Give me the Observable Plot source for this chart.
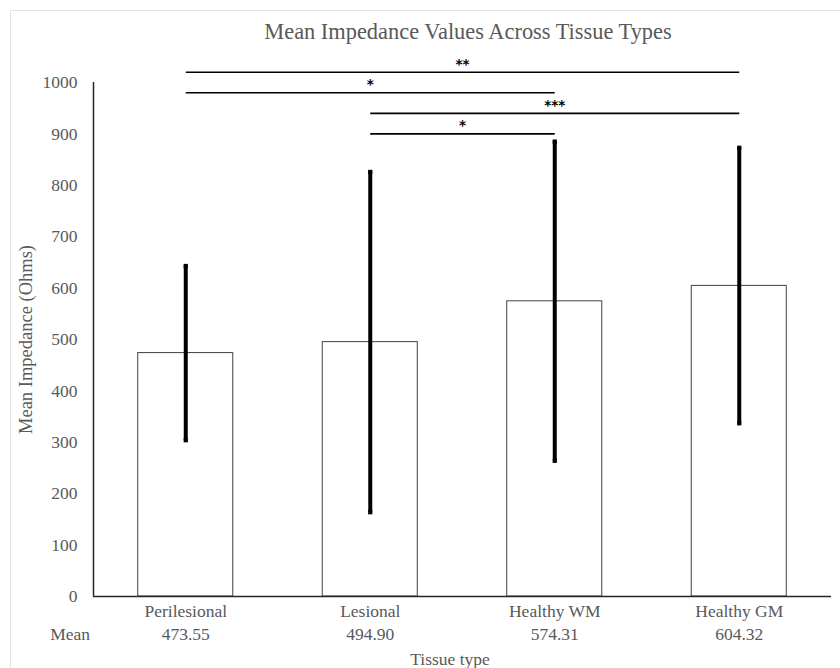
<!DOCTYPE html>
<html>
<head>
<meta charset="utf-8">
<script src="https://cdn.jsdelivr.net/npm/d3@7"></script>
<script src="https://cdn.jsdelivr.net/npm/@observablehq/plot@0.6"></script>
<style>
  html, body { margin: 0; padding: 0; background: #fff; overflow: hidden; }
  #wrap { position: relative; width: 840px; height: 668px; overflow: hidden; background: #fff; }
  #frame { position: absolute; left: 10px; top: 10px; width: 900px; height: 700px; border: 1px solid #e3e3e3; box-sizing: border-box; }
  .lbl { position: absolute; font-family: "Liberation Serif", serif; color: #595959; white-space: nowrap; line-height: 1.15; }
  #title { top: 19px; left: 468px; transform: translateX(-50%); font-size: 22.4px; }
  #meanlbl { top: 624px; right: 750px; font-size: 17.5px; }
  #xlabel { top: 649px; left: 450px; transform: translateX(-50%); font-size: 17.5px; }
  #chart { position: absolute; left: 0; top: 0; }
</style>
</head>
<body>
<div id="wrap">
  <div id="frame"></div>
  <div id="chart"></div>
  <div class="lbl" id="title">Mean Impedance Values Across Tissue Types</div>
  <div class="lbl" id="meanlbl">Mean</div>
  <div class="lbl" id="xlabel">Tissue type</div>
</div>
<script>
const categories = ["Perilesional", "Lesional", "Healthy WM", "Healthy GM"];
const means = [473.55, 494.90, 574.31, 604.32];
const errLow = [304, 164, 264, 337];
const errHigh = [643, 826, 885, 873];
const yTicks = [0, 100, 200, 300, 400, 500, 600, 700, 800, 900, 1000];

const sigFrom = ["Perilesional", "Perilesional", "Lesional", "Lesional"];
const sigTo = ["Healthy GM", "Healthy WM", "Healthy GM", "Healthy WM"];
const sigLevel = [1020, 980, 940, 900];
const sigLabel = ["**", "*", "***", "*"];

const bars = categories.map((c, i) => ({i, name: c, mean: means[i], lo: errLow[i], hi: errHigh[i]}));
const sig = sigFrom.map((f, k) => {
  const a = categories.indexOf(f), b = categories.indexOf(sigTo[k]);
  return {a, b, mid: (a + b) / 2, y: sigLevel[k], label: sigLabel[k]};
});

const halfBar = 0.2575; // bar half-width in band units

const chart = Plot.plot({
  width: 840,
  height: 668,
  marginLeft: 93,
  marginRight: 9,
  marginTop: 82,
  marginBottom: 72,
  style: {fontFamily: "Liberation Serif, serif", fontSize: "17.5px", color: "#595959", background: "transparent", overflow: "visible"},
  x: {domain: [-0.5, 3.5], axis: null},
  y: {domain: [0, 1000], axis: null},
  marks: [
    Plot.axisY({ticks: yTicks, tickSize: 0, tickPadding: 16, fontSize: 17.5, tickFormat: d => String(d), label: null}),
    Plot.axisY({ticks: [], tickSize: 0, fontSize: 18.5, label: "Mean Impedance (Ohms)", labelAnchor: "center", labelOffset: 75, labelArrow: "none"}),
    Plot.axisX({ticks: bars.map(d => d.i), tickSize: 0, tickPadding: 3, fontSize: 17.5, lineHeight: 1.37,
      tickFormat: i => categories[i] + "\n" + means[i].toFixed(2), label: null}),
    Plot.rectY(bars, {x1: d => d.i - halfBar, x2: d => d.i + halfBar, y1: 0, y2: "mean", fill: "white", stroke: "#404040", strokeWidth: 1}),
    Plot.ruleX(bars, {x: "i", y1: "lo", y2: "hi", stroke: "black", strokeWidth: 4}),
    Plot.dot(bars, {x: "i", y: "hi", symbol: "square", r: 2.4, fill: "black"}),
    Plot.dot(bars, {x: "i", y: "lo", symbol: "square", r: 2.4, fill: "black"}),
    Plot.ruleY([0], {stroke: "#262626", strokeWidth: 1.5}),
    Plot.ruleX([-0.5], {y1: 0, y2: 1000, stroke: "#262626", strokeWidth: 1.5}),
    Plot.link(sig, {x1: "a", x2: "b", y1: "y", y2: "y", stroke: "black", strokeWidth: 1.6}),
    Plot.text(sig, {x: "mid", y: "y", text: "label", dy: -8, fill: "black", fontSize: 13.5, fontWeight: "bold", fontFamily: "DejaVu Sans, sans-serif"})
  ]
});
document.getElementById("chart").appendChild(chart);
</script>
</body>
</html>
